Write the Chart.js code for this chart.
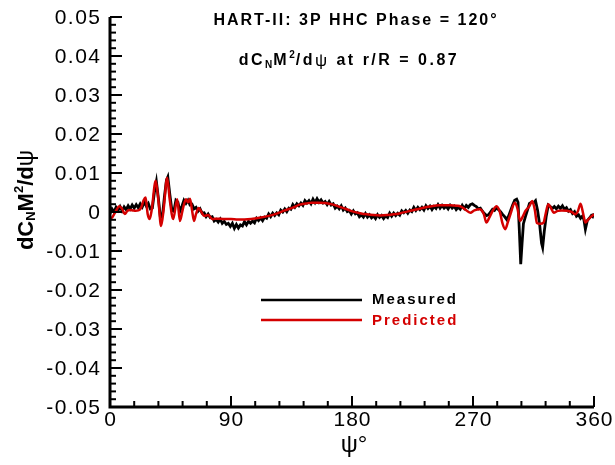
<!DOCTYPE html>
<html lang="en">

<head>
    <meta charset="UTF-8">
    <script src="https://cdn.jsdelivr.net/npm/chart.js"></script>
    <title>HART-II dCnM2/dpsi</title>
    <style>
        body { margin: 0; background: #fff; }
        #wrap { width: 615px; height: 465px; }
    </style>
</head>

<body>
    <div id="wrap">
        <canvas id="myChart" width="615" height="465"></canvas>
    </div>

<script>
    // eixo x (azimute psi) e valores
    const xTicks = [0, 90, 180, 270, 360];
    const yTicks = [0.05, 0.04, 0.03, 0.02, 0.01, 0, -0.01, -0.02, -0.03, -0.04, -0.05];

    const psiMedido = [0, 1.5, 3, 4.5, 6, 7.5, 9, 10.5, 12, 13.5, 15, 16.5, 18, 19.5, 21, 22.5, 24, 25.5, 27, 28.5,
        30, 31.5, 33, 34.5, 36, 37.5, 39, 40.5, 42, 43, 44.5, 46, 47.5, 49, 50.5, 52, 53.5, 55, 56.5, 58, 59.5,
        61, 62.5, 64, 65.5, 67, 68.5, 70, 71.5, 73, 74.5, 76, 77.5, 79, 80.5, 82, 83.5, 85, 86.5, 88, 89.5,
        91, 92.5, 94, 95.5, 97, 98.5, 100, 101.5, 103, 104.5, 106, 107.5, 109, 110.5, 112, 113.5, 115, 116.5, 118, 119.5,
        121, 122.5, 124, 125.5, 127, 128.5, 130, 131.5, 133, 134.5, 136, 137.5, 139, 140.5, 142, 143.5, 145, 146.5, 148, 149.5,
        151, 152.5, 154, 155.5, 157, 158.5, 160, 161.5, 163, 164.5, 166, 167.5, 169, 170.5, 172, 173.5, 175, 176.5, 178, 179.5,
        181, 182.5, 184, 185.5, 187, 188.5, 190, 191.5, 193, 194.5, 196, 197.5, 199, 200.5, 202, 203.5, 205, 206.5, 208, 209.5,
        211, 212.5, 214, 215.5, 217, 218.5, 220, 221.5, 223, 224.5, 226, 227.5, 229, 230.5, 232, 233.5, 235, 236.5, 238, 239.5,
        241, 242.5, 244, 245.5, 247, 248.5, 250, 251.5, 253, 254.5, 256, 257.5, 259, 260.5, 262, 263.5, 265, 266.5, 268, 269.5,
        271, 272.5, 274, 275.5, 277, 278.5, 280, 281.5, 283, 284.5, 286, 287.5, 289, 290.5, 292, 293.5, 295, 296.5, 298, 299.5,
        301, 302.5, 303.5, 304.5, 305.5, 306.5, 307.5, 309, 310.5, 312, 313.5, 315, 316.5, 318, 319.5, 321, 321.8, 323, 324.5,
        326, 327.5, 329, 330.5, 332, 333.5, 335, 336.5, 338, 339.5, 341, 342.5, 344, 345.5, 347, 348.5, 350, 351.5, 352.5,
        353.6, 355, 356.5, 358, 359, 360];

    const medido = [-0.0004, 0.0008, 0.0000, 0.0012, 0.0004, 0.0014, 0.0003, 0.0013, 0.0006, 0.0016, 0.0008, 0.0018, 0.0010, 0.0019, 0.0011, 0.0021, 0.0013, 0.0026, 0.0015, 0.0022,
        0.0008, 0.0010, 0.0050, 0.0078, 0.0035, -0.0015, -0.0010, 0.0040, 0.0082, 0.0090, 0.0045, 0.0005, 0.0002, 0.0030, 0.0025, 0.0002, 0.0015, 0.0030, 0.0022, 0.0030, 0.0018,
        0.0020, 0.0008, 0.0012, 0.0002, 0.0008, -0.0003, -0.0002, -0.0012, -0.0005, -0.0014, -0.0012, -0.0023, -0.0019, -0.0026, -0.0018, -0.0029, -0.0024, -0.0032, -0.0029, -0.0037,
        -0.0029, -0.0042, -0.0032, -0.0041, -0.0033, -0.0036, -0.0025, -0.0033, -0.0024, -0.0029, -0.0023, -0.0028, -0.0016, -0.0022, -0.0015, -0.0022, -0.0013, -0.0016, -0.0005, -0.0012,
        -0.0003, -0.0009, -0.0002, -0.0007, 0.0005, 0.0000, 0.0008, 0.0001, 0.0010, 0.0007, 0.0019, 0.0012, 0.0021, 0.0016, 0.0023, 0.0017, 0.0029, 0.0023, 0.0029, 0.0021,
        0.0033, 0.0024, 0.0034, 0.0025, 0.0031, 0.0023, 0.0027, 0.0019, 0.0027, 0.0018, 0.0021, 0.0010, 0.0015, 0.0008, 0.0016, 0.0005, 0.0010, 0.0001, 0.0004, -0.0005,
        0.0003, -0.0005, -0.0002, -0.0012, -0.0007, -0.0013, -0.0004, -0.0013, -0.0007, -0.0015, -0.0010, -0.0017, -0.0007, -0.0014, -0.0009, -0.0017, -0.0010, -0.0014, -0.0003, -0.0011,
        -0.0003, -0.0009, -0.0003, -0.0008, 0.0003, -0.0002, 0.0004, -0.0003, 0.0005, 0.0001, 0.0012, 0.0004, 0.0012, 0.0006, 0.0012, 0.0005, 0.0016, 0.0009, 0.0015, 0.0006,
        0.0014, 0.0009, 0.0019, 0.0010, 0.0017, 0.0010, 0.0015, 0.0008, 0.0017, 0.0010, 0.0015, 0.0006, 0.0012, 0.0007, 0.0017, 0.0009, 0.0017, 0.0012, 0.0019, 0.0021,
        0.0017, 0.0014, 0.0008, 0.0010, 0.0002, -0.0004, -0.0009, -0.0007, 0.0000, 0.0007, 0.0004, 0.0011, 0.0006, 0.0001, -0.0006, -0.0012, -0.0019, -0.0010, 0.0004, 0.0018,
        0.0030, 0.0033, 0.0025, -0.0050, -0.0134, -0.0080, -0.0030, -0.0012, 0.0005, 0.0022, 0.0025, 0.0023, 0.0029, 0.0005, -0.0030, -0.0080, -0.0091, -0.0050, -0.0010,
        0.0018, 0.0014, 0.0009, 0.0014, 0.0008, 0.0015, 0.0009, 0.0016, 0.0007, 0.0011, 0.0002, 0.0006, -0.0004, 0.0001, -0.0011, -0.0007, -0.0016, -0.0010, -0.0020,
        -0.0044, -0.0022, -0.0016, -0.0009, -0.0012, -0.0004];

    const psiPrevisto = [0, 2, 4, 7, 9, 11, 13, 15, 17, 19, 21, 23, 25, 26.5, 28, 29.5, 31, 34, 36, 38, 40, 42.5, 44.5, 47,
        50, 52, 54, 56.5, 58, 59.5, 61, 62.5, 64, 66, 68, 70, 73, 76, 80, 85, 90, 95, 100, 105, 111, 118, 124, 130,
        136, 141, 146, 150, 155, 160, 166, 171, 176, 181, 186, 191, 196, 201, 206, 211, 216, 221, 226, 231, 238, 245,
        253, 258, 261, 264, 268, 271, 275, 278, 280, 282, 285, 287.5, 290, 292, 294, 296, 298, 301, 303, 305, 307,
        309, 312, 314, 316, 317.5, 320, 322.5, 324, 326, 328, 330, 333, 336, 340, 344, 346, 348, 350, 352, 353.6,
        355.5, 357.5, 360];

    const previsto = [-0.0018, -0.0012, 0.0000, 0.0015, 0.0008, -0.0005, 0.0003, 0.0005, 0.0004, 0.0003, 0.0004, 0.0010, 0.0030, 0.0037, -0.0005, -0.0018, 0.0005, 0.0080, 0.0030, -0.0036, 0.0010, 0.0088, 0.0030, -0.0018,
        0.0033, -0.0023, 0.0005, 0.0033, 0.0025, 0.0034, 0.0005, -0.0023, -0.0005, 0.0010, 0.0000, -0.0010, -0.0008, -0.0018, -0.0017, -0.0018, -0.0018, -0.0019, -0.0019, -0.0018, -0.0015, -0.0010, -0.0004, 0.0004,
        0.0011, 0.0019, 0.0022, 0.0024, 0.0024, 0.0023, 0.0019, 0.0013, 0.0007, 0.0001, -0.0003, -0.0006, -0.0008, -0.0009, -0.0008, -0.0006, -0.0003, 0.0001, 0.0005, 0.0009, 0.0014, 0.0017,
        0.0017, 0.0016, 0.0014, 0.0007, -0.0002, 0.0004, 0.0007, -0.0005, -0.0027, -0.0015, 0.0005, 0.0015, 0.0000, -0.0030, -0.0044, -0.0025, -0.0004, 0.0024, 0.0010, -0.0023, -0.0012,
        0.0003, 0.0015, 0.0028, 0.0005, -0.0028, -0.0030, -0.0027, -0.0005, 0.0020, 0.0010, -0.0002, 0.0003, 0.0004, 0.0003, -0.0001, -0.0006, 0.0002, 0.0021, -0.0005, -0.0027,
        -0.0020, -0.0013, -0.0006];

    const fonte = '"Liberation Sans", Arial, sans-serif';
    const vermelho = '#d40000';

    function pares(xs, ys) {
        return xs.map((x, i) => ({ x: x, y: ys[i] }));
    }

    function rotuloY(v) {
        const r = Math.round(v * 100) / 100;
        return r === 0 ? '0' : r.toFixed(2);
    }

    // escreve texto com pedacos (subscrito/sobrescrito)
    function textoRico(ctx, partes, x, y, centro) {
        let largura = 0;
        partes.forEach(p => {
            ctx.font = p.font;
            ctx.letterSpacing = p.ls || '0px';
            largura += ctx.measureText(p.t).width;
        });
        let pos = centro ? x - largura / 2 : x;
        partes.forEach(p => {
            ctx.font = p.font;
            ctx.letterSpacing = p.ls || '0px';
            ctx.fillText(p.t, pos, y + (p.dy || 0));
            pos += ctx.measureText(p.t).width;
        });
        ctx.letterSpacing = '0px';
    }

    const enfeites = {
        id: 'enfeites',
        afterDraw(chart) {
            const ctx = chart.ctx;
            const sx = chart.scales.x;
            const sy = chart.scales.y;
            const area = chart.chartArea;
            ctx.save();

            // eixos esquerdo e inferior
            ctx.strokeStyle = '#000';
            ctx.lineWidth = 3;
            ctx.beginPath();
            ctx.moveTo(area.left, area.top);
            ctx.lineTo(area.left, area.bottom);
            ctx.lineTo(area.right, area.bottom);
            ctx.stroke();

            // marcas para dentro
            ctx.lineWidth = 2;
            for (let v = 0; v <= 360; v += 18) {
                const px = sx.getPixelForValue(v);
                const tam = v % 90 === 0 ? 11 : 6;
                ctx.beginPath();
                ctx.moveTo(px, area.bottom);
                ctx.lineTo(px, area.bottom - tam);
                ctx.stroke();
            }
            for (let k = -25; k <= 25; k++) {
                const py = sy.getPixelForValue(k * 0.002);
                const tam = k % 5 === 0 ? 12 : 6;
                ctx.beginPath();
                ctx.moveTo(area.left, py);
                ctx.lineTo(area.left + tam, py);
                ctx.stroke();
            }

            // rotulos dos eixos
            ctx.fillStyle = '#000';
            ctx.textBaseline = 'middle';
            ctx.font = '21px ' + fonte;
            ctx.letterSpacing = '1.5px';
            ctx.textAlign = 'right';
            yTicks.forEach(v => {
                ctx.fillText(rotuloY(v), 101.5, sy.getPixelForValue(v) + 1);
            });
            ctx.letterSpacing = '1px';
            ctx.textAlign = 'center';
            xTicks.forEach(v => {
                ctx.fillText(String(v), sx.getPixelForValue(v) + 0.5, 420);
            });
            ctx.letterSpacing = '0px';

            // titulos
            ctx.textAlign = 'left';
            const b16 = 'bold 16px ' + fonte;
            const b10 = 'bold 10px ' + fonte;
            textoRico(ctx, [{ t: 'HART-II: 3P HHC Phase = 120°', font: b16, ls: '2px' }], 356, 21, true);
            textoRico(ctx, [
                { t: 'dC', font: b16, ls: '2.5px' },
                { t: 'N', font: b10, dy: 4, ls: '1px' },
                { t: 'M', font: b16, ls: '2.5px' },
                { t: '2', font: b10, dy: -6, ls: '1px' },
                { t: '/d', font: b16, ls: '2.5px' },
                { t: 'ψ', font: '17px ' + fonte, ls: '2.5px' },
                { t: ' at r/R = 0.87', font: b16, ls: '2.5px' }
            ], 349, 61, true);

            // legenda
            ctx.lineWidth = 2.5;
            ctx.strokeStyle = '#000';
            ctx.beginPath(); ctx.moveTo(261, 300); ctx.lineTo(362, 300); ctx.stroke();
            ctx.strokeStyle = vermelho;
            ctx.beginPath(); ctx.moveTo(261, 320); ctx.lineTo(362, 320); ctx.stroke();
            textoRico(ctx, [{ t: 'Measured', font: 'bold 15px ' + fonte, ls: '2px' }], 372, 300, false);
            ctx.fillStyle = vermelho;
            textoRico(ctx, [{ t: 'Predicted', font: 'bold 15px ' + fonte, ls: '2px' }], 372, 321, false);

            // titulo eixo x
            ctx.fillStyle = '#000';
            textoRico(ctx, [{ t: 'ψ°', font: '24px ' + fonte }], 354, 445, true);

            // titulo eixo y (girado)
            ctx.translate(33, 200);
            ctx.rotate(-Math.PI / 2);
            ctx.textBaseline = 'alphabetic';
            const b22 = 'bold 22px ' + fonte;
            const b13 = 'bold 13px ' + fonte;
            textoRico(ctx, [
                { t: 'dC', font: b22 },
                { t: 'N', font: b13, dy: 2 },
                { t: 'M', font: b22 },
                { t: '2', font: b13, dy: -10 },
                { t: '/d', font: b22 },
                { t: 'ψ', font: '23px ' + fonte }
            ], 0, 0, true);

            ctx.restore();
        }
    };

    const ctx1 = document.getElementById('myChart').getContext('2d');

    new Chart(ctx1, {
        type: 'line',
        data: {
            datasets: [
                {
                    label: 'Predicted',
                    data: pares(psiPrevisto, previsto),
                    borderColor: vermelho,
                    borderWidth: 2.5,
                    pointRadius: 0,
                    cubicInterpolationMode: 'monotone',
                    order: 0
                },
                {
                    label: 'Measured',
                    data: pares(psiMedido, medido),
                    borderColor: '#000',
                    borderWidth: 2.8,
                    pointRadius: 0,
                    tension: 0,
                    order: 1
                }
            ]
        },
        options: {
            responsive: false,
            animation: false,
            events: [],
            layout: { padding: { top: 17, right: 21, left: 0, bottom: 0 } },
            plugins: { legend: { display: false }, tooltip: { enabled: false } },
            scales: {
                x: {
                    type: 'linear',
                    min: 0,
                    max: 360,
                    afterFit: (s) => { s.height = 58; },
                    grid: { display: false, drawTicks: false },
                    border: { display: false },
                    ticks: { display: false }
                },
                y: {
                    min: -0.05,
                    max: 0.05,
                    afterFit: (s) => { s.width = 110; },
                    grid: { display: false, drawTicks: false },
                    border: { display: false },
                    ticks: { display: false }
                }
            }
        },
        plugins: [enfeites]
    });
</script>
</body>

</html>
